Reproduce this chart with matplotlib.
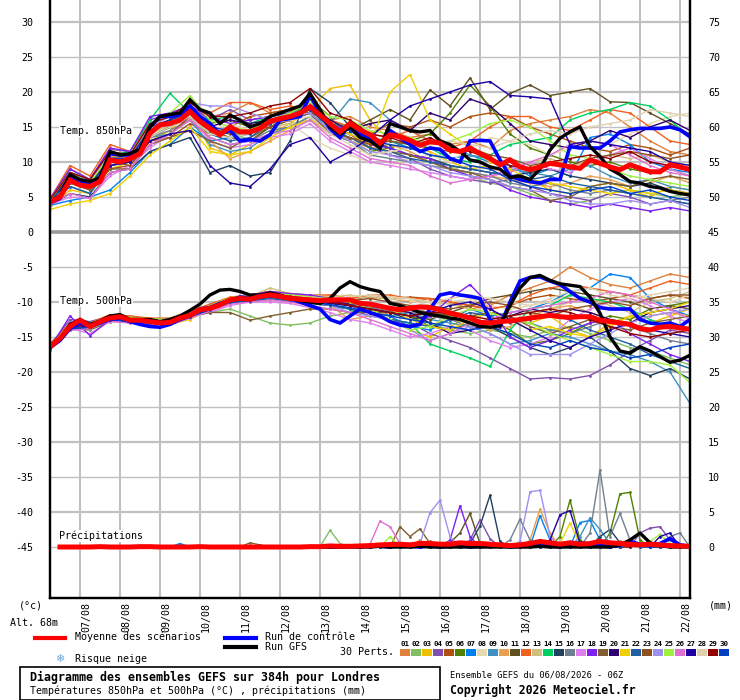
import matplotlib
matplotlib.use("Agg")
import matplotlib.pyplot as plt
from matplotlib.patches import Rectangle
from matplotlib.lines import Line2D

plt.rcParams['font.family'] = ['DejaVu Sans Mono', 'DejaVu Sans']

# échéances (heures depuis le 06/08 06Z)
hours = list(range(0, 385, 6))
hours_12 = list(range(0, 385, 12))
hours_rr = list(range(6, 385, 6))

day_labels = ['07/08', '08/08', '09/08', '10/08', '11/08', '12/08', '13/08', '14/08',
              '15/08', '16/08', '17/08', '18/08', '19/08', '20/08', '21/08', '22/08']
day_hours = [18 + 24 * k for k in range(len(day_labels))]

member_colors = ['#E0803A', '#80C060', '#F0C000', '#8050B0', '#B05010', '#508000',
                 '#0080F0', '#E8D8B0', '#4090C0', '#E8A050', '#605020', '#F06020',
                 '#D0C080', '#00D060', '#204060', '#708090', '#E080F0', '#8020F0',
                 '#806030', '#300070', '#F0D000', '#2060A0', '#905020', '#A090F0',
                 '#A0F040', '#E070D0', '#2000A0', '#E0D0B0', '#900000', '#0040C0']

# --- Temp 850 hPa ---
t850_mean = [4.3, 5.0, 7.4, 6.7, 6.5, 7.2, 10.3, 10.0, 10.5, 11.2, 14.1, 15.3, 15.5, 16.0, 17.2, 15.8,
             14.8, 13.9, 15.0, 14.3, 14.3, 14.8, 15.8, 16.2, 16.5, 17.0, 17.9, 16.7, 15.5, 14.3, 15.5,
             14.6, 13.9, 12.7, 13.9, 13.6, 13.1, 12.4, 12.9, 12.7, 11.7, 11.5, 12.0, 11.2, 10.5, 9.6,
             10.3, 9.3, 8.9, 9.3, 9.8, 9.6, 9.3, 9.1, 10.3, 9.8, 9.3, 8.9, 9.6, 9.1, 8.6, 8.6, 9.6, 9.3, 8.9]
t850_ctrl = [4.2, 4.8, 8.0, 7.2, 7.0, 7.6, 11.2, 11.0, 11.0, 11.5, 15.0, 16.5, 16.5, 16.8, 18.0, 16.5,
             15.5, 14.0, 14.5, 13.0, 13.2, 13.0, 13.9, 16.0, 16.2, 16.5, 19.5, 17.0, 14.8, 13.5, 15.5,
             14.0, 13.5, 12.0, 14.5, 13.5, 12.5, 11.5, 12.0, 11.8, 10.5, 10.0, 13.0, 13.1, 13.0, 10.3,
             8.0, 7.5, 7.2, 7.0, 7.5, 7.5, 12.2, 12.0, 12.0, 12.0, 13.0, 14.3, 14.6, 14.8, 14.8, 14.8,
             15.0, 14.6, 13.6]
t850_gfs = [4.3, 5.2, 8.2, 7.5, 7.2, 7.8, 11.5, 11.0, 11.2, 11.8, 15.0, 16.5, 16.8, 17.0, 18.9, 17.5,
            17.0, 15.5, 16.7, 16.0, 15.0, 15.5, 16.5, 17.0, 17.5, 18.0, 19.8, 17.5, 15.0, 14.0, 15.0,
            13.5, 13.0, 12.0, 15.5, 15.0, 14.5, 14.3, 14.5, 13.0, 12.5, 11.5, 10.3, 10.0, 9.3, 9.0,
            7.8, 8.0, 7.5, 9.0, 11.7, 13.4, 14.3, 15.0, 12.2, 10.8, 9.0, 8.2, 7.2, 7.0, 6.5, 6.3,
            5.8, 5.5, 5.3]

# perturbations, pas de 12h
t850_perts = [
    [4.5, 8.5, 7.5, 11.5, 11.0, 15.0, 16.0, 17.5, 16.5, 17.0, 18.5, 17.0, 17.5, 18.5, 16.0, 16.5, 15.0, 14.5, 13.5, 14.0, 12.5, 13.0, 12.0, 14.5, 15.5, 16.0, 16.5, 17.5, 17.0, 15.0, 13.0, 11.5, 11.0],
    [4.0, 7.0, 6.0, 10.0, 10.5, 13.5, 15.0, 16.5, 14.0, 14.5, 13.0, 15.0, 16.0, 17.0, 15.0, 14.0, 12.5, 12.0, 11.0, 10.5, 9.5, 8.0, 7.0, 6.5, 5.5, 4.5, 4.0, 4.5, 5.5, 6.0, 5.5, 5.0, 5.5],
    [3.5, 6.0, 5.5, 9.0, 10.0, 13.0, 14.5, 17.0, 12.0, 11.0, 12.5, 14.0, 15.5, 17.5, 20.5, 21.0, 16.0, 13.0, 12.0, 11.5, 10.0, 9.0, 9.5, 8.0, 7.5, 6.0, 5.5, 6.5, 7.0, 6.0, 5.0, 6.5, 6.0],
    [4.8, 9.0, 7.5, 11.8, 11.5, 16.0, 17.0, 18.0, 16.0, 17.5, 16.0, 16.5, 17.0, 18.0, 15.0, 14.0, 12.0, 11.0, 10.5, 9.0, 8.0, 7.5, 7.0, 7.5, 6.5, 5.5, 5.0, 4.5, 5.5, 5.0, 4.0, 4.5, 4.0],
    [4.2, 7.5, 6.0, 9.0, 9.5, 13.0, 13.5, 15.5, 14.0, 15.0, 16.5, 17.0, 17.5, 17.0, 16.0, 15.0, 14.0, 15.5, 15.0, 16.0, 15.0, 16.5, 17.0, 16.5, 15.0, 14.0, 13.0, 12.0, 11.5, 12.5, 12.0, 11.0, 12.0],
    [4.6, 8.0, 7.0, 10.5, 11.0, 14.5, 15.5, 17.0, 15.5, 16.0, 15.0, 16.0, 17.0, 19.0, 16.5, 13.0, 11.5, 12.0, 13.0, 14.0, 17.0, 21.0, 18.0, 14.0, 12.0, 11.0, 10.0, 9.5, 10.0, 9.0, 8.5, 9.0, 8.0],
    [3.8, 4.5, 5.0, 6.0, 8.5, 11.5, 12.5, 15.0, 13.0, 13.5, 14.0, 15.5, 16.0, 17.0, 14.5, 14.0, 12.5, 13.0, 12.0, 11.0, 10.5, 11.0, 10.0, 9.5, 8.0, 9.0, 8.0, 13.5, 14.0, 12.5, 10.0, 9.0, 8.5],
    [4.3, 7.0, 6.5, 10.0, 10.0, 14.0, 15.0, 16.0, 14.5, 15.5, 14.5, 15.0, 15.5, 13.5, 12.0, 11.0, 10.0, 9.5, 10.5, 11.0, 10.0, 12.0, 13.5, 13.0, 12.5, 11.0, 12.0, 13.0, 12.5, 14.0, 15.5, 16.5, 17.0],
    [4.0, 6.5, 5.5, 9.5, 10.0, 13.5, 14.0, 16.0, 12.5, 11.5, 12.0, 14.0, 15.0, 16.5, 15.5, 19.0, 18.5, 16.0, 14.5, 13.0, 12.0, 11.0, 10.5, 9.0, 8.5, 8.0, 9.0, 9.5, 8.0, 7.0, 7.5, 6.5, 6.0],
    [4.4, 7.8, 6.8, 10.8, 10.5, 14.5, 15.5, 17.5, 13.0, 10.5, 11.5, 13.0, 14.5, 16.0, 14.0, 13.0, 12.0, 12.5, 11.5, 10.0, 9.0, 8.5, 8.0, 7.5, 7.0, 6.5, 7.0, 8.0, 7.5, 6.5, 7.0, 8.0, 7.0],
    [4.5, 8.0, 7.0, 10.5, 10.0, 13.5, 15.0, 17.0, 14.5, 13.5, 13.0, 15.0, 16.5, 17.5, 15.0, 14.5, 16.0, 17.5, 16.0, 20.3, 18.0, 22.0, 17.5, 19.8, 21.0, 19.5, 20.0, 20.5, 18.6, 18.5, 17.0, 15.5, 14.0],
    [4.7, 9.5, 8.0, 12.5, 11.5, 15.5, 16.5, 17.5, 17.0, 18.5, 18.5, 17.5, 18.0, 17.5, 16.0, 15.0, 14.0, 13.5, 14.5, 13.0, 12.0, 13.0, 15.0, 16.5, 16.5, 15.0, 14.5, 16.0, 17.5, 17.0, 15.0, 13.0, 12.5],
    [4.1, 7.2, 6.2, 10.0, 10.2, 14.2, 15.2, 18.5, 15.0, 14.5, 14.0, 15.0, 15.5, 16.0, 14.5, 13.0, 12.5, 12.0, 11.0, 10.0, 9.0, 9.5, 9.0, 8.5, 10.0, 10.5, 9.5, 10.0, 11.0, 10.5, 11.0, 10.0, 9.5],
    [4.5, 8.5, 7.5, 11.0, 11.5, 16.0, 19.8, 17.0, 16.0, 16.5, 15.5, 16.5, 17.0, 18.0, 15.5, 15.0, 13.5, 13.0, 12.5, 12.0, 10.5, 10.0, 11.0, 12.5, 13.0, 13.5, 16.0, 17.0, 17.5, 18.5, 18.0, 16.0, 13.5],
    [3.8, 5.5, 5.0, 8.5, 9.0, 11.5, 12.5, 13.5, 8.5, 9.5, 8.0, 8.5, 13.0, 20.5, 18.5, 15.0, 13.0, 12.0, 11.0, 10.5, 9.5, 9.0, 8.5, 8.0, 8.5, 9.0, 8.0, 7.5, 7.0, 6.5, 7.0, 6.0, 5.5],
    [4.2, 7.0, 6.5, 9.5, 10.0, 13.5, 14.5, 16.0, 13.5, 12.5, 13.0, 14.5, 15.0, 16.5, 14.0, 13.0, 11.0, 10.5, 10.0, 9.5, 9.0, 8.5, 8.0, 7.0, 6.5, 7.0, 6.0, 5.5, 6.0, 5.5, 5.0, 4.5, 5.0],
    [3.9, 5.0, 4.8, 8.0, 9.5, 12.0, 14.0, 16.5, 13.0, 12.0, 12.5, 13.5, 14.0, 15.5, 13.0, 11.5, 10.0, 9.5, 9.0, 8.5, 8.0, 7.5, 8.0, 9.0, 10.0, 9.0, 8.5, 10.0, 11.0, 12.0, 10.5, 9.0, 8.0],
    [4.7, 9.0, 7.5, 12.0, 11.5, 16.5, 17.0, 18.0, 16.5, 15.5, 16.0, 16.5, 17.0, 18.5, 15.5, 14.5, 12.5, 12.0, 11.0, 10.5, 9.0, 8.0, 7.5, 6.0, 5.0, 4.5, 4.0, 3.5, 4.0, 3.5, 3.0, 3.5, 3.0],
    [4.3, 7.0, 6.0, 9.0, 9.0, 12.5, 13.5, 14.5, 13.0, 12.0, 13.5, 15.0, 16.0, 17.5, 15.0, 14.0, 12.0, 11.5, 11.0, 10.0, 9.0, 8.5, 7.5, 6.5, 6.0, 4.5, 5.0, 6.5, 7.0, 6.5, 7.5, 8.0, 7.5],
    [4.5, 8.0, 7.0, 10.5, 10.5, 15.0, 16.0, 17.5, 15.0, 16.0, 15.5, 16.0, 16.5, 18.0, 16.0, 14.5, 15.5, 16.0, 14.5, 17.0, 16.0, 19.0, 18.0, 15.5, 13.0, 12.5, 12.0, 13.0, 14.5, 13.5, 15.0, 16.0, 14.5],
    [3.2, 4.0, 4.5, 5.5, 8.0, 11.0, 13.0, 15.0, 11.5, 11.0, 11.5, 13.5, 15.0, 16.0, 15.0, 14.0, 12.5, 20.0, 22.5, 16.0, 14.0, 12.0, 10.0, 9.0, 7.5, 7.0, 6.5, 6.0, 5.5, 6.0, 5.5, 6.0, 5.5],
    [4.0, 6.5, 5.5, 9.5, 10.0, 13.5, 15.0, 16.5, 14.0, 13.0, 13.5, 15.5, 16.0, 17.0, 14.5, 13.5, 12.0, 11.5, 10.5, 10.0, 9.5, 9.0, 8.5, 8.0, 7.5, 8.0, 7.0, 6.5, 6.0, 5.5, 5.0, 4.5, 4.0],
    [4.4, 7.5, 6.5, 10.0, 9.5, 13.0, 14.0, 16.5, 14.5, 14.0, 14.5, 15.0, 16.0, 17.0, 14.0, 13.5, 12.5, 13.0, 12.5, 12.0, 11.5, 12.0, 11.0, 10.5, 9.5, 10.0, 9.5, 10.5, 11.0, 11.5, 11.0, 10.5, 11.0],
    [4.6, 8.5, 7.5, 11.0, 11.0, 15.0, 16.5, 18.5, 18.0, 18.0, 17.0, 16.0, 16.5, 17.0, 14.5, 13.0, 11.5, 11.0, 10.0, 9.5, 8.5, 8.0, 7.5, 6.5, 6.0, 5.5, 4.5, 4.0, 4.0, 4.5, 4.0, 4.5, 3.5],
    [4.5, 8.5, 7.0, 11.0, 11.0, 15.5, 17.0, 19.5, 16.0, 15.0, 14.5, 16.0, 17.0, 18.5, 16.5, 16.0, 14.5, 14.0, 13.5, 12.5, 13.0, 14.0, 15.5, 16.0, 15.0, 13.0, 11.0, 10.5, 9.0, 8.0, 7.5, 7.0, 6.5],
    [3.9, 5.5, 4.8, 8.5, 9.0, 12.5, 14.0, 16.0, 13.5, 12.5, 13.0, 14.0, 14.5, 16.0, 13.5, 12.0, 10.5, 10.0, 9.5, 8.0, 7.0, 7.5, 8.0, 8.5, 10.0, 11.0, 12.5, 13.0, 12.5, 11.0, 9.5, 8.5, 8.0],
    [4.2, 7.5, 6.5, 9.5, 10.0, 13.0, 14.0, 14.5, 9.5, 7.0, 6.5, 9.0, 12.5, 13.5, 10.0, 11.5, 13.5, 16.0, 18.0, 19.0, 20.0, 21.0, 21.5, 19.5, 19.3, 19.0, 12.5, 13.0, 12.5, 12.0, 11.5, 10.0, 9.5],
    [4.2, 7.2, 6.5, 10.0, 10.5, 13.5, 15.0, 16.5, 14.0, 13.5, 14.0, 15.5, 16.0, 16.5, 14.0, 12.5, 11.0, 11.5, 12.0, 12.5, 13.0, 12.5, 12.0, 13.0, 14.0, 14.5, 14.0, 15.0, 15.5, 16.0, 17.5, 17.0, 16.5],
    [4.6, 8.5, 7.5, 11.5, 11.0, 15.5, 16.5, 18.5, 16.5, 16.5, 17.0, 18.0, 18.5, 20.5, 17.0, 16.0, 14.0, 13.5, 12.5, 13.5, 12.0, 11.5, 10.5, 9.5, 9.0, 10.0, 10.5, 11.0, 10.5, 11.5, 10.0, 9.5, 9.0],
    [4.3, 7.5, 6.5, 10.5, 10.5, 14.5, 16.0, 17.0, 15.0, 14.5, 14.0, 15.5, 16.5, 17.5, 15.0, 14.5, 13.0, 12.5, 12.0, 11.0, 10.5, 9.5, 9.0, 7.5, 6.5, 6.0, 5.5, 6.0, 6.5, 5.5, 6.0, 5.0, 4.5],
]

# --- Temp 500 hPa ---
t500_mean = [-16.4, -15.2, -13.5, -12.6, -13.5, -12.8, -12.3, -12.1, -12.6, -12.6, -12.8, -13.0, -12.9,
             -12.3, -11.9, -11.1, -10.9, -10.4, -9.7, -9.5, -9.6, -9.2, -9.0, -9.2, -9.5, -9.6, -9.7,
             -9.8, -9.7, -9.7, -9.7, -10.2, -10.3, -10.6, -10.9, -11.1, -10.9, -10.7, -10.8, -11.1,
             -11.6, -11.9, -12.3, -12.9, -13.0, -12.8, -12.7, -12.5, -12.3, -12.1, -11.9, -12.1, -12.2,
             -12.1, -12.1, -12.6, -12.8, -13.0, -13.2, -13.8, -14.0, -13.6, -13.5, -13.7, -13.9]
t500_ctrl = [-16.5, -15.5, -13.8, -13.0, -13.5, -13.0, -12.5, -12.3, -12.8, -13.2, -13.5, -13.6, -13.2,
             -12.5, -12.0, -11.0, -10.8, -10.2, -9.8, -9.3, -9.5, -9.0, -9.0, -9.3, -9.5, -10.0, -10.5,
             -11.0, -12.5, -13.0, -12.0, -11.0, -11.5, -12.0, -12.8, -13.3, -13.5, -13.2, -11.0, -9.0,
             -8.7, -9.0, -9.2, -9.5, -12.5, -13.5, -10.0, -7.0, -6.5, -6.4, -7.0, -7.5, -8.5, -9.5,
             -10.0, -10.8, -11.0, -11.0, -11.0, -12.5, -13.0, -13.2, -13.0, -13.5, -12.5]
t500_gfs = [-16.3, -15.3, -13.2, -12.5, -13.2, -12.7, -12.0, -11.8, -12.5, -12.5, -12.5, -12.8, -12.5,
            -12.0, -11.2, -10.3, -9.0, -8.3, -8.2, -8.5, -9.0, -9.0, -8.7, -9.0, -9.5, -9.8, -10.0,
            -10.2, -9.5, -8.0, -7.1, -7.8, -8.2, -8.5, -10.2, -10.5, -11.0, -11.5, -11.8, -12.0,
            -12.3, -12.5, -13.0, -13.5, -13.6, -13.4, -10.5, -8.0, -6.5, -6.2, -6.9, -7.4, -7.6, -7.8,
            -9.3, -11.6, -15.0, -17.0, -17.3, -16.4, -17.0, -17.8, -18.6, -18.3, -17.6]

t500_perts = [
    [-16.0, -13.0, -13.0, -12.0, -12.0, -12.5, -12.5, -11.5, -10.5, -9.5, -9.0, -8.5, -9.0, -9.5, -9.0, -9.5, -9.0, -9.5, -10.0, -9.5, -10.0, -11.0, -10.5, -9.0, -8.0, -7.0, -5.0, -6.5, -7.5, -8.0, -7.0, -6.0, -6.5],
    [-16.5, -13.5, -13.8, -12.5, -12.8, -13.0, -13.0, -12.0, -11.5, -11.0, -12.0, -13.0, -13.3, -13.0, -12.0, -11.5, -10.5, -11.0, -12.0, -13.0, -14.0, -14.5, -14.0, -14.5, -15.0, -14.0, -13.5, -14.5, -15.5, -16.5, -17.0, -18.0, -19.0],
    [-16.8, -14.0, -13.5, -12.5, -12.5, -13.0, -13.2, -12.5, -11.0, -10.0, -9.5, -9.0, -9.0, -9.5, -10.0, -10.5, -11.0, -12.0, -14.0, -15.0, -13.5, -12.0, -11.5, -12.5, -13.0, -12.0, -14.0, -15.0, -13.0, -12.0, -13.0, -12.0, -11.0],
    [-16.2, -12.5, -12.8, -12.0, -12.2, -12.5, -12.5, -11.5, -10.5, -9.5, -9.0, -8.5, -9.0, -9.5, -10.5, -11.0, -12.0, -12.5, -13.0, -14.5, -15.5, -16.5, -18.0, -19.5, -21.0, -20.8, -21.0, -20.5, -19.0, -17.0, -15.5, -14.0, -14.5],
    [-16.0, -13.2, -13.0, -12.2, -12.5, -12.5, -12.5, -11.5, -10.5, -9.5, -9.0, -8.7, -9.0, -9.2, -9.5, -9.5, -9.3, -9.5, -9.3, -9.5, -10.0, -10.5, -11.0, -10.5, -9.5, -9.0, -9.5, -10.0, -9.5, -9.0, -9.5, -9.0, -9.5],
    [-16.5, -13.8, -14.0, -12.8, -12.8, -13.0, -12.8, -12.0, -11.0, -10.0, -10.0, -9.5, -9.5, -10.0, -10.0, -10.5, -11.0, -11.5, -12.0, -13.5, -14.0, -13.0, -12.5, -14.0, -16.0, -15.5, -14.5, -13.0, -12.0, -12.5, -11.0, -10.5, -10.0],
    [-16.3, -13.0, -13.5, -12.0, -12.5, -12.7, -13.0, -12.0, -11.0, -9.8, -9.5, -9.2, -9.5, -9.7, -10.0, -10.5, -10.5, -12.0, -13.5, -14.0, -12.5, -11.0, -12.0, -11.5, -11.0, -10.0, -8.5, -8.0, -6.0, -6.5, -9.5, -11.0, -12.0],
    [-16.5, -13.5, -13.2, -12.3, -12.3, -12.5, -12.5, -11.8, -10.8, -9.5, -9.3, -8.8, -9.0, -9.3, -9.0, -9.5, -9.2, -9.5, -9.8, -10.5, -10.0, -9.5, -10.5, -11.0, -10.5, -10.0, -9.0, -9.5, -8.5, -9.0, -9.5, -10.0, -9.0],
    [-16.8, -14.0, -13.8, -12.5, -12.8, -13.2, -13.0, -12.0, -11.0, -10.0, -9.8, -9.3, -9.8, -10.0, -10.5, -11.0, -11.5, -12.0, -11.5, -12.5, -13.0, -13.5, -14.5, -16.0, -15.5, -14.5, -15.0, -16.0, -17.0, -17.5, -18.5, -20.0, -24.5],
    [-16.4, -13.5, -13.5, -12.5, -12.5, -12.8, -12.5, -11.8, -11.0, -10.0, -9.5, -9.0, -9.5, -10.0, -10.5, -12.5, -12.0, -11.5, -11.0, -11.5, -12.0, -13.0, -14.0, -13.5, -12.0, -11.0, -10.5, -11.5, -12.5, -13.0, -12.0, -11.5, -12.0],
    [-16.6, -13.6, -13.3, -12.3, -12.5, -12.7, -12.8, -11.9, -10.8, -9.7, -9.5, -9.0, -9.3, -9.8, -10.0, -10.5, -11.0, -11.5, -12.0, -12.5, -11.5, -10.5, -9.5, -9.0, -8.5, -8.0, -8.5, -9.0, -9.5, -10.0, -11.0, -10.5, -11.0],
    [-16.2, -13.0, -13.0, -11.8, -12.0, -12.3, -12.3, -11.3, -10.3, -9.3, -9.0, -8.5, -8.8, -9.0, -9.0, -9.5, -9.0, -9.0, -9.5, -9.5, -10.0, -10.5, -11.0, -10.5, -9.0, -8.0, -7.5, -8.0, -8.5, -9.0, -8.0, -7.0, -7.5],
    [-16.3, -13.3, -13.0, -12.0, -12.3, -12.5, -12.7, -11.6, -10.6, -9.4, -9.2, -8.0, -8.8, -9.0, -9.3, -9.0, -9.5, -9.3, -9.5, -10.0, -10.3, -11.0, -11.5, -12.0, -11.5, -11.0, -10.0, -9.5, -10.5, -11.5, -10.0, -9.5, -8.5],
    [-16.7, -13.8, -13.5, -12.4, -12.6, -12.8, -13.0, -12.0, -11.2, -10.2, -9.8, -9.5, -9.8, -10.2, -10.5, -11.0, -11.5, -12.5, -13.0, -16.0, -17.0, -18.0, -19.2, -14.0, -11.0, -10.5, -9.0, -9.5, -10.0, -11.0, -12.5, -13.5, -14.0],
    [-16.5, -13.7, -13.4, -12.3, -12.7, -12.9, -12.9, -12.0, -11.0, -9.8, -9.7, -9.2, -9.5, -9.7, -10.2, -10.5, -11.0, -11.5, -12.5, -12.0, -11.5, -12.5, -13.5, -15.0, -16.5, -17.5, -16.5, -15.0, -17.0, -19.5, -20.5, -19.5, -21.0],
    [-16.5, -13.5, -13.5, -12.3, -12.6, -12.8, -13.0, -12.0, -11.0, -10.0, -9.6, -9.1, -9.6, -9.8, -10.0, -10.3, -10.8, -11.3, -11.5, -12.0, -12.5, -13.5, -13.0, -12.5, -13.0, -14.0, -14.5, -13.5, -12.5, -13.5, -14.5, -15.5, -16.0],
    [-16.8, -13.8, -14.5, -12.8, -13.0, -13.2, -13.2, -12.2, -11.5, -10.5, -10.0, -10.0, -10.2, -10.8, -11.5, -12.5, -13.0, -14.0, -15.0, -14.5, -13.5, -14.0, -15.5, -16.5, -16.0, -15.0, -12.5, -11.0, -10.0, -9.5, -10.5, -12.0, -13.0],
    [-16.6, -12.0, -14.8, -12.5, -12.8, -13.0, -12.5, -11.5, -10.5, -9.5, -9.0, -8.5, -8.8, -9.0, -9.5, -10.5, -11.5, -12.5, -13.5, -12.0, -9.5, -7.5, -10.5, -15.0, -16.5, -15.5, -14.0, -13.0, -12.5, -14.5, -16.0, -17.5, -18.5],
    [-16.5, -13.6, -13.4, -12.2, -12.4, -12.6, -12.6, -12.0, -11.5, -11.5, -12.6, -12.0, -11.5, -11.0, -11.0, -11.5, -11.5, -11.5, -11.0, -11.5, -12.0, -12.0, -11.5, -12.0, -13.5, -14.5, -13.5, -12.5, -13.5, -14.0, -13.0, -12.5, -12.0],
    [-16.4, -13.4, -13.4, -12.3, -12.5, -12.7, -12.8, -11.8, -10.8, -9.7, -9.5, -9.0, -9.4, -9.7, -10.0, -10.2, -10.5, -11.0, -11.5, -13.0, -14.5, -14.0, -13.0, -12.0, -11.0, -11.5, -11.0, -11.5, -12.5, -13.0, -11.5, -11.0, -10.5],
    [-16.3, -13.5, -13.6, -12.4, -12.6, -12.8, -12.9, -11.8, -10.9, -9.5, -9.4, -9.0, -9.2, -9.5, -9.8, -10.0, -10.5, -11.0, -12.5, -13.5, -14.0, -12.5, -11.5, -12.5, -14.0, -13.5, -14.5, -15.0, -13.5, -12.0, -11.5, -11.0, -10.0],
    [-16.6, -13.9, -13.7, -12.6, -12.9, -13.1, -13.1, -12.2, -11.2, -10.1, -9.9, -9.5, -9.9, -10.2, -10.5, -11.0, -11.5, -12.5, -13.0, -13.5, -12.5, -11.5, -12.0, -13.0, -12.5, -12.0, -12.5, -14.0, -15.0, -16.0, -17.5, -18.5, -19.5],
    [-16.4, -13.4, -13.2, -12.1, -12.3, -12.5, -12.6, -11.6, -10.6, -9.6, -9.3, -8.9, -9.2, -9.5, -9.8, -9.8, -9.5, -10.0, -10.5, -10.5, -11.0, -10.5, -10.0, -10.5, -11.5, -12.0, -11.0, -10.5, -10.0, -10.5, -9.5, -9.0, -9.0],
    [-16.5, -13.7, -13.5, -12.4, -12.6, -12.8, -12.8, -11.9, -11.0, -9.9, -9.7, -9.3, -9.6, -9.9, -10.5, -11.5, -12.0, -12.5, -14.0, -15.5, -14.5, -13.5, -14.5, -16.0, -17.5, -17.5, -17.5, -16.0, -14.5, -13.0, -12.0, -11.5, -11.0],
    [-16.3, -13.2, -13.1, -12.0, -12.2, -12.4, -12.5, -11.5, -10.5, -9.4, -9.1, -8.7, -9.0, -9.3, -9.5, -10.0, -11.0, -12.5, -14.0, -13.5, -12.0, -11.0, -11.5, -12.5, -13.0, -14.5, -15.5, -16.5, -17.5, -18.5, -18.5, -19.0, -21.5],
    [-16.6, -14.0, -13.8, -12.7, -13.0, -13.2, -13.2, -12.3, -11.3, -10.3, -10.0, -9.7, -10.0, -10.5, -11.0, -11.5, -12.5, -13.5, -14.5, -15.5, -14.5, -13.0, -12.5, -11.5, -11.0, -10.5, -10.0, -9.5, -8.5, -9.0, -10.0, -11.0, -12.5],
    [-16.5, -13.6, -13.5, -12.4, -12.6, -12.9, -12.9, -12.0, -11.0, -9.8, -9.7, -9.2, -9.6, -9.9, -10.2, -10.5, -11.0, -11.5, -12.0, -11.5, -10.5, -10.0, -11.0, -12.5, -14.0, -15.5, -16.5, -15.0, -14.0, -13.0, -14.0, -14.5, -15.0],
    [-16.4, -13.4, -13.3, -12.2, -12.4, -12.6, -12.6, -11.7, -10.7, -9.6, -9.4, -8.9, -9.2, -9.4, -9.7, -9.2, -9.0, -9.3, -9.5, -10.0, -9.5, -9.0, -9.5, -10.0, -10.5, -9.5, -8.5, -8.0, -9.0, -9.5, -9.0, -8.5, -8.0],
    [-16.5, -13.5, -13.3, -12.3, -12.5, -12.7, -12.7, -11.8, -10.8, -9.5, -9.3, -8.8, -9.2, -9.5, -10.0, -10.5, -11.0, -11.5, -12.0, -11.5, -11.5, -12.0, -12.5, -12.0, -11.5, -11.0, -11.5, -12.5, -13.5, -14.5, -15.0, -14.5, -14.0],
    [-16.6, -13.8, -13.6, -12.5, -12.8, -13.0, -13.0, -12.1, -11.1, -10.0, -9.8, -9.3, -9.7, -10.0, -10.4, -10.8, -11.5, -12.0, -12.5, -13.0, -13.5, -14.0, -13.5, -14.5, -16.0, -16.5, -15.5, -16.5, -17.0, -18.0, -17.5, -16.5, -16.0],
]

# --- Précipitations (mm / 6h), tracées avec un décalage de -45 ---
rr_mean = [0.0, 0.0, 0.0, 0.0, 0.05, 0.0, 0.0, 0.0, 0.05, 0.05, 0.0, 0.0, 0.0, 0.0, 0.05, 0.0, 0.0,
           0.0, 0.0, 0.0, 0.0, 0.0, 0.0, 0.0, 0.0, 0.05, 0.05,
           0.15, 0.1, 0.1, 0.15, 0.2, 0.3, 0.35, 0.4, 0.3, 0.5, 0.5, 0.4, 0.4, 0.6, 0.5, 0.5, 0.4,
           0.3, 0.2, 0.3, 0.5, 0.8, 0.6, 0.4, 0.6, 0.4, 0.5, 0.8, 0.6, 0.5, 0.4, 0.3, 0.4, 0.3, 0.2,
           0.15, 0.1]
rr_ctrl = [0.0] * 27 + [0.0, 0.0, 0.1, 0.0, 0.2, 0.1, 0.0, 0.3, 0.1, 0.0, 0.2, 0.0, 0.1, 0.3, 0.0,
                        0.1, 0.4, 0.2, 0.0, 0.1, 0.3, 0.5, 0.2, 0.0, 0.3, 0.6, 0.4, 0.2, 0.0, 0.3,
                        0.8, 0.4, 0.2, 0.5, 1.2, 0.3, 0.1]
rr_gfs = [0.0] * 27 + [0.0, 0.0, 0.0, 0.0, 0.0, 0.1, 0.0, 0.0, 0.0, 0.1, 0.0, 0.0, 0.0, 0.0, 0.0,
                       0.0, 0.0, 0.0, 0.0, 0.0, 0.0, 0.1, 0.0, 0.0, 0.0, 0.0, 0.0, 0.0, 0.0, 0.3,
                       1.0, 2.0, 0.6, 0.2, 0.0, 0.0, 0.0]
# pluie des perturbations : (échéance h, mm), ailleurs 0
rr_pert_events = {
    1: [(282, 0.4), (300, 0.6), (342, 0.5)],
    2: [(168, 2.4), (174, 0.5), (306, 0.4)],
    3: [(222, 0.6), (312, 0.5)],
    4: [(252, 1.0), (258, 3.9), (264, 1.2), (354, 2.0), (360, 2.7), (366, 2.9), (372, 1.0)],
    5: [(228, 0.8), (234, 0.3)],
    6: [(306, 1.5), (312, 6.7), (318, 1.0), (336, 2.0), (342, 7.6), (348, 7.8), (354, 1.0)],
    7: [(78, 0.5), (294, 4.5), (300, 1.0), (318, 3.5), (324, 3.8), (330, 1.0)],
    8: [(204, 0.5), (330, 0.6)],
    9: [(318, 1.5), (324, 4.2), (330, 2.5), (336, 0.5)],
    10: [(288, 1.0), (294, 5.4), (300, 2.0)],
    11: [(240, 0.6), (246, 2.0), (252, 4.8), (258, 0.5)],
    12: [(222, 1.0), (342, 0.8)],
    13: [(264, 0.4)],
    14: [(348, 0.8), (354, 0.5)],
    15: [(252, 0.5), (258, 3.0), (264, 7.4), (270, 0.8), (330, 1.5), (336, 2.5), (342, 0.6)],
    16: [(276, 1.0), (282, 4.0), (288, 1.0), (324, 2.0), (330, 11.0), (336, 1.5), (342, 4.8),
         (348, 1.0), (372, 1.5), (378, 2.0)],
    17: [(216, 0.5), (312, 0.8)],
    18: [(240, 1.0), (246, 5.9), (252, 1.5)],
    19: [(120, 0.6), (126, 0.3), (210, 2.9), (216, 1.5), (222, 2.6), (228, 0.5)],
    20: [(300, 0.5)],
    21: [(306, 0.5), (312, 3.4), (318, 0.4)],
    22: [(330, 0.6), (360, 0.8)],
    23: [(198, 0.4), (282, 0.6)],
    24: [(222, 0.5), (228, 4.9), (234, 6.7), (240, 1.5), (282, 0.8), (288, 7.9), (294, 8.1), (300, 1.5)],
    25: [(204, 1.5), (360, 0.8), (366, 1.8), (372, 0.5)],
    26: [(192, 0.4), (198, 3.7), (204, 2.9), (210, 0.5), (294, 1.0)],
    27: [(300, 1.0), (306, 4.6), (312, 5.2), (318, 0.5), (366, 1.5), (372, 2.0)],
    28: [(240, 0.3)],
    29: [(354, 0.5)],
    30: [(258, 0.5), (348, 0.6)],
}
RR_OFFSET = -45

W, H = 740, 700


def fx(x):
    return x / W


def fy(y):
    return 1 - y / H


fig = plt.figure(figsize=(W / 100, H / 100), dpi=100)
ax_top_px, ax_bot_px = 0, 598
ax = fig.add_axes([fx(50), fy(ax_bot_px), fx(690) - fx(50), (ax_bot_px - ax_top_px) / H])
ax.set_xlim(0, 384)
ax.set_ylim((232 - ax_bot_px) / 7.0, 232 / 7.0)

# grille
for h in day_hours:
    ax.axvline(h, color='#c0c0c0', lw=1.5, zorder=0)
for v in range(-45, 31, 5):
    if v == 0:
        ax.axhline(0, color='#9a9a9a', lw=2.6, zorder=1)
    else:
        ax.axhline(v, color='#c0c0c0', lw=1.6 if v % 10 == 0 else 1.0, zorder=0)

mk = dict(marker='o', ms=2.0, mew=0)

# perturbations
for i in range(30):
    c = member_colors[i]
    ax.plot(hours_12, t850_perts[i], color=c, lw=1.0, zorder=2, **mk)
    ax.plot(hours_12, t500_perts[i], color=c, lw=1.0, zorder=2, **mk)
    rr = [0.0] * len(hours_rr)
    for h, v in rr_pert_events.get(i + 1, []):
        rr[h // 6 - 1] = v
    ax.plot(hours_rr, [RR_OFFSET + v for v in rr], color=c, lw=1.0, zorder=2, **mk)

# contrôle, GFS, moyenne
for series, col, lw, z in [(t850_ctrl, '#0000FF', 2.6, 3), (t500_ctrl, '#0000FF', 2.6, 3),
                           (t850_gfs, 'black', 2.4, 4), (t500_gfs, 'black', 2.4, 4),
                           (t850_mean, '#FF0000', 3.6, 5), (t500_mean, '#FF0000', 3.6, 5)]:
    ax.plot(hours, series, color=col, lw=lw, zorder=z, solid_joinstyle='miter')
ax.plot(hours_rr, [RR_OFFSET + v for v in rr_ctrl], color='#0000FF', lw=2.6, zorder=3)
ax.plot(hours_rr, [RR_OFFSET + v for v in rr_gfs], color='black', lw=2.4, zorder=4)
ax.plot(hours_rr, [RR_OFFSET + v for v in rr_mean], color='#FF0000', lw=3.6, zorder=5)

lab_kw = dict(fontsize=7.2, ha='left', va='center', zorder=6,
              bbox=dict(facecolor='white', edgecolor='none', pad=0.6))
ax.text(6, 14.4, 'Temp. 850hPa', **lab_kw)
ax.text(6, -9.9, 'Temp. 500hPa', **lab_kw)
ax.text(5.5, -43.4, 'Précipitations', **lab_kw)

# axes
ax.spines['top'].set_visible(False)
for s in ['left', 'right', 'bottom']:
    ax.spines[s].set_linewidth(1.6)
    ax.spines[s].set_color('black')
ax.set_xticks([])
yt = list(range(-45, 31, 5))
ax.set_yticks(yt)
ax.set_yticklabels([str(v) for v in yt], fontsize=7.2)
ax.tick_params(axis='y', length=0, pad=12)

ax2 = ax.twinx()
ax2.set_ylim(ax.get_ylim())
ax2.set_yticks(yt)
ax2.set_yticklabels([str(v - RR_OFFSET) for v in yt], fontsize=7.2)
ax2.tick_params(axis='y', length=0, pad=13)
ax2.spines['top'].set_visible(False)
for s in ['left', 'right', 'bottom']:
    ax2.spines[s].set_linewidth(1.6)

for h, lab in zip(day_hours, day_labels):
    ax.text(h + 3.6, -0.006, lab, transform=ax.get_xaxis_transform(), rotation=90,
            ha='center', va='top', fontsize=7.2, clip_on=False)

# textes et légende en bas
fig.text(fx(31), fy(606), '(°c)', fontsize=7.2, ha='center', va='center')
fig.text(fx(10), fy(623), 'Alt. 68m', fontsize=7.2, ha='left', va='center')
fig.text(fx(721), fy(606), '(mm)', fontsize=7.2, ha='center', va='center')

fig.add_artist(Line2D([fx(35), fx(65)], [fy(637.5)] * 2, color='#FF0000', lw=3))
fig.text(fx(75), fy(637), 'Moyenne des scénarios', fontsize=7.2, ha='left', va='center')
fig.add_artist(Line2D([fx(225), fx(256)], [fy(637.5)] * 2, color='#0000FF', lw=3))
fig.text(fx(265), fy(637), 'Run de contrôle', fontsize=7.2, ha='left', va='center')
fig.add_artist(Line2D([fx(225), fx(256)], [fy(646.5)] * 2, color='black', lw=3))
fig.text(fx(265), fy(647), 'Run GFS', fontsize=7.2, ha='left', va='center')
fig.text(fx(340), fy(652), '30 Perts.', fontsize=7.2, ha='left', va='center')
fig.text(fx(60), fy(658.5), '❄', fontsize=8, color='#70A8E0', ha='center', va='center',
         family=['DejaVu Sans'])
fig.text(fx(75), fy(659), 'Risque neige', fontsize=7.2, ha='left', va='center')

for i, c in enumerate(member_colors):
    x0 = 400 + 11 * i
    fig.text(fx(x0 + 5), fy(643.5), '%02d' % (i + 1), fontsize=5.3, ha='center', va='center',
             fontweight='bold')
    fig.add_artist(Rectangle((fx(x0), fy(656)), 10 / W, 7 / H, facecolor=c, edgecolor='none'))

fig.add_artist(Rectangle((fx(20), fy(699.5)), 420 / W, 32.5 / H, facecolor='none',
                         edgecolor='black', lw=1.2))
fig.text(fx(30), fy(677), 'Diagramme des ensembles GEFS sur 384h pour Londres', fontsize=8.4,
         fontweight='bold', ha='left', va='center')
fig.text(fx(30), fy(691), 'Températures 850hPa et 500hPa (°C) , précipitations (mm)', fontsize=7.2,
         ha='left', va='center')
fig.text(fx(450), fy(675), 'Ensemble GEFS du 06/08/2026 - 06Z', fontsize=6.3, ha='left', va='center')
fig.text(fx(450), fy(690), 'Copyright 2026 Meteociel.fr', fontsize=8.3, fontweight='bold',
         ha='left', va='center')

fig.savefig('out.png', dpi=100)
